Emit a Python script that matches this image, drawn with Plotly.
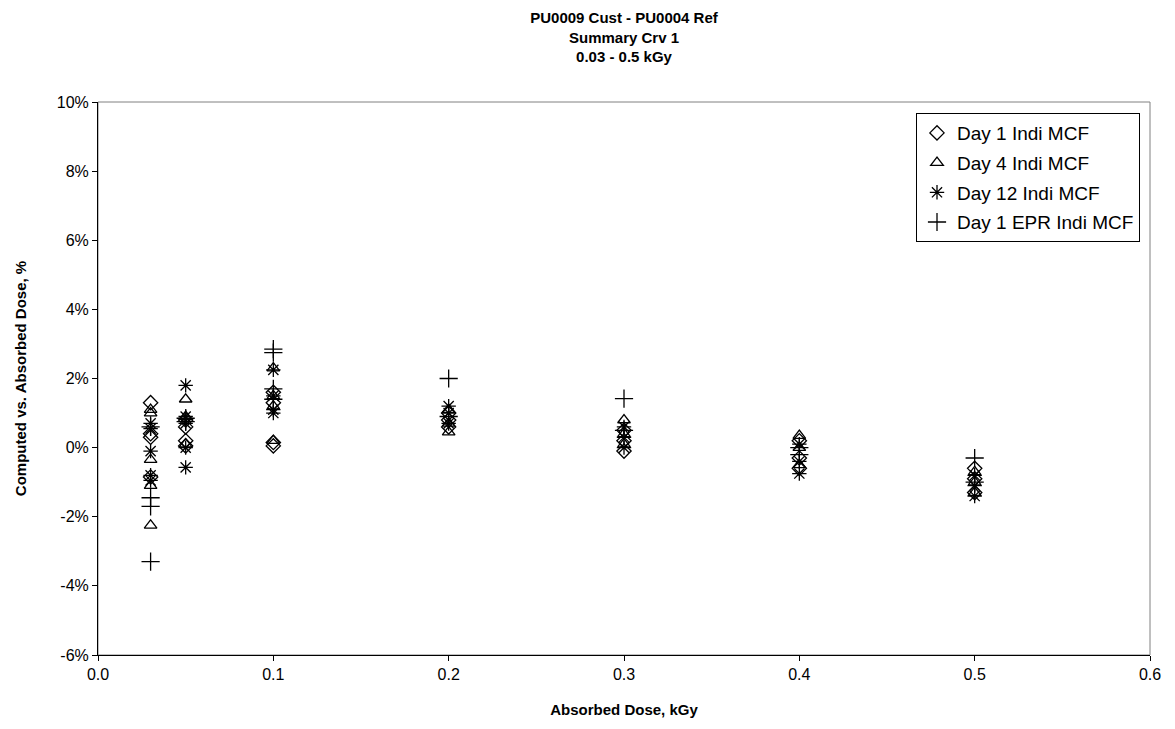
import plotly.graph_objects as go

# Data (percent deviation) per series, per dose level
day1_x = [0.03]*4 + [0.05]*4 + [0.1]*4 + [0.2]*3 + [0.3]*3 + [0.4]*3 + [0.5]*3
day1_y = [1.3, 0.4, 0.3, -0.85,
          0.8, 0.6, 0.2, 0.05,
          1.6, 1.3, 0.15, 0.05,
          1.0, 0.8, 0.6,
          0.5, 0.2, -0.1,
          0.2, -0.3, -0.6,
          -0.6, -0.9, -1.3]

day4_x = [0.03]*5 + [0.05]*3 + [0.1]*4 + [0.2]*3 + [0.3]*3 + [0.4]*3 + [0.5]*3
day4_y = [1.1, 1.0, -0.35, -1.1, -2.25,
          1.4, 0.9, 0.1,
          2.3, 1.5, 1.2, 0.2,
          1.1, 0.7, 0.45,
          0.8, 0.4, 0.1,
          0.35, 0.0, -0.5,
          -0.7, -1.0, -1.3]

day12_x = [0.03]*5 + [0.05]*5 + [0.1]*4 + [0.2]*3 + [0.3]*3 + [0.4]*3 + [0.5]*3
day12_y = [0.7, 0.55, -0.1, -0.8, -0.95,
           1.8, 0.9, 0.7, 0.0, -0.57,
           2.25, 1.5, 1.1, 1.0,
           1.2, 1.0, 0.7,
           0.6, 0.3, 0.0,
           0.1, -0.4, -0.75,
           -0.8, -1.1, -1.4]

epr_x = [0.03]*4 + [0.05]*2 + [0.1]*4 + [0.2]*2 + [0.3]*2 + [0.4]*2 + [0.5]*2
epr_y = [0.6, -1.45, -1.7, -3.3,
         0.85, 0.75,
         2.85, 2.75, 1.7, 1.4,
         2.0, 0.9,
         1.42, 0.5,
         0.0, -0.2,
         -0.3, -1.0]

y_tick_vals = [-6, -4, -2, 0, 2, 4, 6, 8, 10]
y_tick_text = ["-6%", "-4%", "-2%", "0%", "2%", "4%", "6%", "8%", "10%"]
x_tick_vals = [0.0, 0.1, 0.2, 0.3, 0.4, 0.5, 0.6]
x_tick_text = ["0.0", "0.1", "0.2", "0.3", "0.4", "0.5", "0.6"]

series = [
    ("Day 1 Indi MCF", day1_x, day1_y, "diamond-open", 11),
    ("Day 4 Indi MCF", day4_x, day4_y, "triangle-up-open", 11),
    ("Day 12 Indi MCF", day12_x, day12_y, "asterisk-open", 12),
    ("Day 1 EPR Indi MCF", epr_x, epr_y, "cross-thin-open", 13),
]

fig = go.Figure()
for i, (name, xs, ys, sym, sz) in enumerate(series):
    fig.add_trace(go.Scatter(
        x=xs, y=ys, mode="markers", name=name, legendgroup=f"g{i}",
        marker=dict(symbol=sym, size=sz, color="black",
                    line=dict(color="black", width=1.3)),
    ))

font = "Liberation Sans, Arial, sans-serif"
fig.update_layout(
    width=1175, height=729,
    margin=dict(l=87, r=33, t=94, b=82),
    paper_bgcolor="white", plot_bgcolor="white",
    font=dict(family=font, size=16, color="black"),
    title=dict(
        text="<b>PU0009 Cust - PU0004 Ref<br>Summary Crv 1<br>0.03 - 0.5 kGy</b>",
        x=0.5, xref="paper", xanchor="center", y=0.979, yanchor="top",
        font=dict(family=font, size=15, color="black"),
    ),
    showlegend=True,
    legend=dict(
        x=0.9905, y=0.98, xanchor="right", yanchor="top",
        bgcolor="white", bordercolor="black", borderwidth=1,
        font=dict(family=font, size=19, color="black"),
        tracegroupgap=2, itemsizing="trace",
    ),
    xaxis=dict(
        range=[0, 0.6], tickmode="array", tickvals=x_tick_vals, ticktext=x_tick_text,
        showgrid=False, zeroline=False,
        showline=True, linecolor="black", linewidth=1,
        ticks="outside", ticklen=5, tickcolor="black",
        tickfont=dict(size=16),
        title=dict(text="<b>Absorbed Dose, kGy</b>", font=dict(size=15), standoff=22),
    ),
    yaxis=dict(
        range=[-6, 10], tickmode="array", tickvals=y_tick_vals, ticktext=y_tick_text,
        showgrid=False, zeroline=False,
        showline=True, linecolor="black", linewidth=1,
        ticks="outside", ticklen=5, tickcolor="black",
        tickfont=dict(size=16),
        title=dict(text="<b>Computed vs. Absorbed Dose, %</b>", font=dict(size=15), standoff=26),
    ),
)

# gray frame on top/right of plot area
fig.add_shape(type="rect", xref="paper", yref="paper", x0=0, y0=0, x1=1, y1=1,
              line=dict(color="#808080", width=1), layer="below")

fig.write_html("out.html")
